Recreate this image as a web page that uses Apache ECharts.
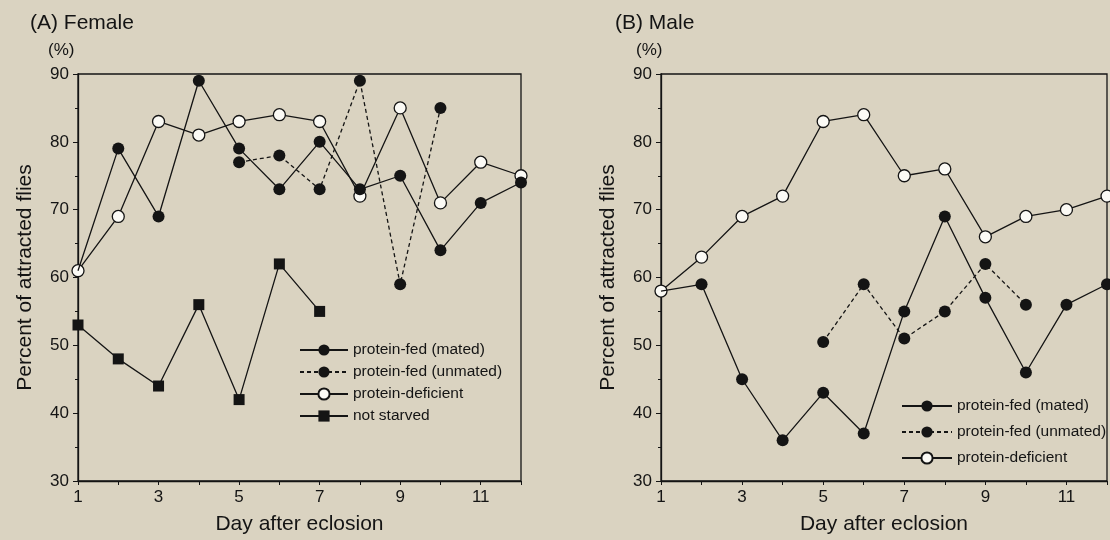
<!DOCTYPE html>
<html>
<head>
<meta charset="utf-8">
<script src="https://cdn.jsdelivr.net/npm/echarts@6/dist/echarts.min.js"></script>
<style>
html,body{margin:0;padding:0;background:#dad3c1;}
#c{width:1110px;height:540px;}
</style>
</head>
<body>
<div id="c"></div>
<script>
// ---- data ----
const days = [1,2,3,4,5,6,7,8,9,10,11,12];
const yTicks = [30,40,50,60,70,80,90];

const femaleMated     = [61,79,69,89,79,73,80,73,75,64,71,74];
const femaleUnmatedDays = [5,6,7,8,9,10];
const femaleUnmated   = [77,78,73,89,59,85];
const femaleDeficient = [61,69,83,81,83,84,83,72,85,71,77,75];
const notStarvedDays  = [1,2,3,4,5,6,7];
const notStarved      = [53,48,44,56,42,62,55];

const maleMated       = [58,59,45,36,43,37,55,69,57,46,56,59];
const maleUnmatedDays = [5,6,7,8,9,10];
const maleUnmated     = [50.5,59,51,55,62,56];
const maleDeficient   = [58,63,69,72,83,84,75,76,66,69,70,72];

const names = ['protein-fed (mated)','protein-fed (unmated)','protein-deficient','not starved'];

// ---- build ----
const INK = '#141414';
const FONT = '"Liberation Sans", Arial, Helvetica, sans-serif';
function pairs(xs, ys){ return xs.map((d,i)=>[d, ys[i]]); }
function hideFirst(arr){ return arr.map((p,i)=> i===0 ? {value:p, symbol:'none'} : p); }

function filled(name, data, gi, dashed){
  return {
    name, type:'line', xAxisIndex:gi, yAxisIndex:gi, data,
    symbol:'circle', symbolSize:12, clip:false, z:3,
    itemStyle:{color:INK, borderColor:INK, borderWidth:0},
    lineStyle:{color:INK, width:1.3, type: dashed ? [4,3] : 'solid'}
  };
}
function open(name, data, gi){
  return {
    name, type:'line', xAxisIndex:gi, yAxisIndex:gi, data,
    symbol:'circle', symbolSize:12, clip:false, z:2,
    itemStyle:{color:'#fbfaf5', borderColor:INK, borderWidth:1.3},
    lineStyle:{color:INK, width:1.3}
  };
}
function square(name, data, gi){
  return {
    name, type:'line', xAxisIndex:gi, yAxisIndex:gi, data,
    symbol:'rect', symbolSize:11, clip:false, z:3,
    itemStyle:{color:INK},
    lineStyle:{color:INK, width:1.3}
  };
}

function xAxis(gi){
  return {
    type:'value', gridIndex:gi, min:1, max:12, interval:1,
    name:'Day after eclosion', nameLocation:'middle', nameGap:33,
    nameTextStyle:{fontSize:21, color:INK, fontFamily:FONT},
    axisLine:{lineStyle:{color:INK, width:1.3}},
    axisTick:{length:4, lineStyle:{color:INK, width:1}},
    axisLabel:{fontSize:17, color:INK, fontFamily:FONT, margin:8,
      formatter: v => (v % 2 === 1 && v <= 11) ? String(v) : ''},
    splitLine:{show:false}
  };
}
function yAxis(gi){
  return {
    type:'value', gridIndex:gi, min:yTicks[0], max:yTicks[yTicks.length-1], interval:10,
    name:'Percent of attracted flies', nameLocation:'middle', nameGap:42,
    nameTextStyle:{fontSize:21, color:INK, fontFamily:FONT},
    axisLine:{show:true, lineStyle:{color:INK, width:1.3}},
    axisTick:{length:5, lineStyle:{color:INK, width:1}},
    minorTick:{show:true, splitNumber:2, length:3, lineStyle:{color:INK, width:1}},
    axisLabel:{fontSize:17, color:INK, fontFamily:FONT, margin:9},
    splitLine:{show:false}
  };
}
function legend(left, top, width, gap, data){
  return {
    orient:'vertical', left, top, padding:0, itemWidth:width, itemHeight:14, itemGap:gap,
    data, selectedMode:false,
    textStyle:{fontSize:15.5, color:INK, fontFamily:FONT, lineHeight:16},
    itemStyle:{}, lineStyle:{}
  };
}

const option = {
  backgroundColor:'#dad3c1',
  animation:false,
  textStyle:{fontFamily:FONT},
  title:[
    {text:'(A) Female', left:25, top:8, textStyle:{fontSize:21, fontWeight:'normal', color:INK, fontFamily:FONT}},
    {text:'(B) Male', left:610, top:8, textStyle:{fontSize:21, fontWeight:'normal', color:INK, fontFamily:FONT}}
  ],
  graphic:[
    {type:'text', left:48, top:42, style:{text:'(%)', fill:INK, font:'17px "Liberation Sans", Arial, sans-serif'}},
    {type:'text', left:636, top:42, style:{text:'(%)', fill:INK, font:'17px "Liberation Sans", Arial, sans-serif'}}
  ],
  grid:[
    {left:78, top:74, width:443, height:409, show:true, borderColor:INK, borderWidth:1.3, backgroundColor:'transparent'},
    {left:661, top:74, width:447, height:409, show:true, borderColor:INK, borderWidth:1.3, backgroundColor:'transparent'}
  ],
  xAxis:[xAxis(0), xAxis(1)],
  yAxis:[yAxis(0), yAxis(1)],
  legend:[
    legend(299, 342, 48, 6, names),
    legend(901, 398, 50, 10, names.slice(0,3))
  ],
  series:[
    open(names[2], pairs(days, femaleDeficient), 0),
    filled(names[0], hideFirst(pairs(days, femaleMated)), 0, false),
    filled(names[1], pairs(femaleUnmatedDays, femaleUnmated), 0, true),
    square(names[3], pairs(notStarvedDays, notStarved), 0),
    open(names[2], pairs(days, maleDeficient), 1),
    filled(names[0], hideFirst(pairs(days, maleMated)), 1, false),
    filled(names[1], pairs(maleUnmatedDays, maleUnmated), 1, true)
  ]
};
const chart = echarts.init(document.getElementById('c'), null, {renderer:'canvas'});
chart.setOption(option);
</script>
</body>
</html>
